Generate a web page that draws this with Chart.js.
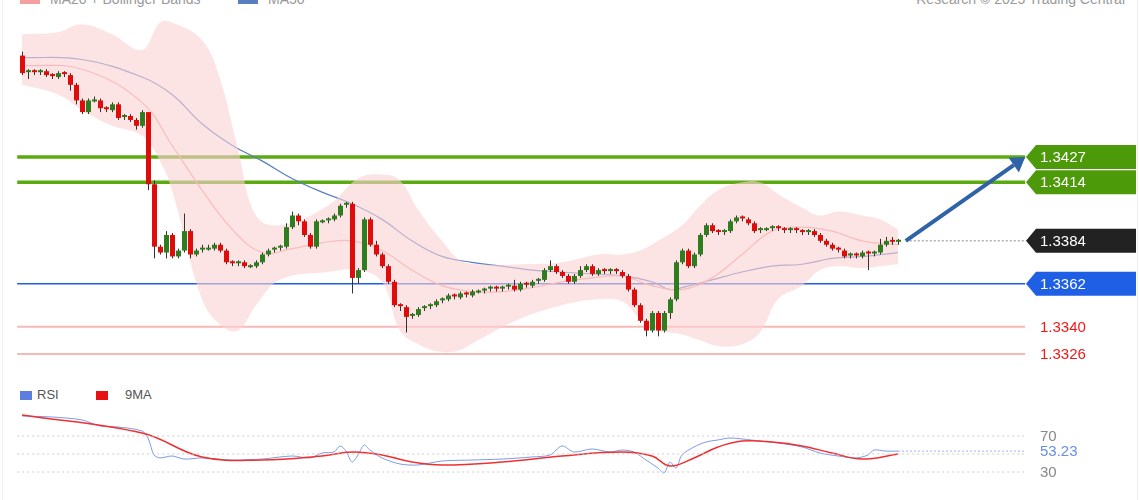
<!DOCTYPE html>
<html><head><meta charset="utf-8">
<script src="https://cdn.jsdelivr.net/npm/chart.js@4.4.1/dist/chart.umd.min.js"></script>
<style>
html,body{margin:0;padding:0;background:#fff;width:1140px;height:500px;overflow:hidden;font-family:"Liberation Sans",Arial,sans-serif}
#main{position:absolute;left:0;top:0;width:1140px;height:375px}
#rsi{position:absolute;left:0;top:380px;width:1140px;height:120px}
.t{position:absolute;font-size:14px;color:#999;white-space:nowrap}
.sw{position:absolute;width:20px;height:3px}
.lg{position:absolute;font-size:13px;color:#555}
.sq{position:absolute;width:12px;height:9px}
</style></head><body>
<div class="sw" style="left:20px;top:-2px;background:#f5a0a0;height:6px"></div>
<div class="t" style="left:50px;top:-9px">MA20 + Bollinger Bands</div>
<div class="sw" style="left:238px;top:-2px;background:#5a7ec0;height:6px"></div>
<div class="t" style="left:268px;top:-9px">MA50</div>
<div class="t" style="right:15px;top:-9px">Research © 2025 Trading Central</div>
<div style="position:absolute;right:2px;top:0;width:1px;height:500px;background:#eee"></div>
<div style="position:absolute;left:2px;top:0;width:1px;height:500px;background:#f2f2f2"></div>
<div class="sq" style="left:20px;top:391px;background:#5b7fe0"></div>
<div class="lg" style="left:37px;top:387px">RSI</div>
<div class="sq" style="left:96px;top:391px;background:#e81010"></div>
<div class="lg" style="left:125px;top:387px">9MA</div>
<canvas id="main" width="1140" height="375"></canvas>
<canvas id="rsi" width="1140" height="120"></canvas>
<script>
const firstOpen = 1.3479;
const closes = [1.3470,1.3471,1.3470,1.3471,1.3469,1.3468,1.3470,1.3469,1.3464,1.3456,
1.3450,1.3456,1.3456,1.3452,1.3451,1.3454,1.3447,1.3448,1.3446,1.3443,
1.3450,1.3413,1.3381,1.3378,1.3387,1.3376,1.3379,1.3389,1.3377,1.3379,
1.3380,1.3380,1.3382,1.3379,1.3373,1.3372,1.3373,1.3371,1.3371,1.3373,
1.3377,1.3379,1.3380,1.3381,1.3391,1.3397,1.3394,1.3387,1.3381,1.3394,
1.3394,1.3395,1.3397,1.3402,1.3403,1.3365,1.3369,1.3395,1.3382,1.3377,
1.3371,1.3363,1.3351,1.3350,1.3345,1.3346,1.3349,1.3350,1.3351,1.3353,
1.3354,1.3356,1.3355,1.3357,1.3356,1.3358,1.3358,1.3359,
1.3360,1.3359,1.3360,1.3361,1.3359,1.3362,1.3361,1.3363,1.3364,
1.3369,1.3371,1.3368,1.3366,1.3363,1.3366,1.3369,1.3371,1.3367,1.3369,
1.3368,1.3369,1.3368,1.3366,1.3359,1.3351,1.3343,1.3338,1.3347,1.3338,
1.3347,1.3354,1.3373,1.3379,1.3371,1.3377,1.3387,1.3392,1.3389,1.3388,
1.3389,1.3394,1.3396,1.3395,1.3393,1.3389,1.3390,1.3390,1.3391,1.3390,1.3389,1.3390,1.3389,
1.3388,1.3389,1.3387,1.3384,1.3382,1.3380,1.3379,1.3376,1.3377,1.3376,
1.3378,1.3377,1.3378,1.3382,1.3384,1.3383,1.3384];
// wick extensions in pips beyond the body
const hiExt = [2,1,1,1,1,1,1,1,1,1, 1,1,2,1,1,1,1,1,1,1, 1,0,2,1,2,1,1,9,1,1, 2,2,1,1,1,1,1,1,1,1, 1,1,1,1,2,2,1,1,1,1, 1,1,1,1,1,1,1,1,1,2, 1,1,1,1,1,1,1,1,1,1, 1,1,1,1,1,1,1,1, 1,1,1,1,3,1,1,1,1, 1,3,1,1,1,1,2,1,1,1, 1,1,1,1,1,1,1,1,1,1, 1,1,1,1,1,1,1,1,1,1, 1,1,1,1,1,1,1,1,1,1,1,1,1, 1,1,1,1,1,1,1,1,1,1, 1,1,1,3,2,2,1];
const loExt = [1,3,1,1,1,1,1,1,3,2, 1,1,1,2,1,1,1,1,1,2, 1,3,6,1,3,1,1,1,2,1, 1,1,1,1,1,1,1,1,1,1, 1,1,1,1,1,1,2,1,1,1, 1,1,1,1,1,8,3,1,1,1, 1,1,1,2,8,1,1,1,1,1, 1,1,1,1,1,1,1,1, 1,1,1,1,1,1,1,1,1, 1,1,1,1,1,1,1,1,1,1, 1,1,1,1,1,1,1,3,1,3, 1,3,1,1,1,1,1,1,1,1, 1,1,1,1,1,1,1,1,1,1,1,1,1, 1,1,1,1,1,1,1,1,1,1, 1,8,1,1,1,1,1];

const bandIdx = [0,6,10,15,20,23,25,30,33,36,39,43,51,56,60,63,66,70,73,76,83,90,96,100,103,106,110,113,116,120,123,126,130,133,136,140,143,146];
const bandUpper = [1.3490,1.3491,1.3495,1.3490,1.3482,1.3496,1.3496,1.3487,1.3467,1.3431,1.3397,1.3392,1.3402,1.3416,1.3418,1.3415,1.3400,1.3384,1.3374,1.3372,1.3372,1.3373,1.3377,1.3377,1.3379,1.3384,1.3392,1.3402,1.3410,1.3414,1.3414,1.3408,1.3401,1.3397,1.3399,1.3397,1.3395,1.3390];
const bandLower = [1.3464,1.3459,1.3451,1.3443,1.3438,1.3425,1.3410,1.3354,1.3341,1.3338,1.3351,1.3364,1.3368,1.3369,1.3363,1.3338,1.3331,1.3327,1.3328,1.3333,1.3344,1.3351,1.3354,1.3353,1.3344,1.3338,1.3336,1.3333,1.3330,1.3331,1.3337,1.3354,1.3361,1.3369,1.3371,1.3370,1.3371,1.3372];
const ma20Idx = [0,10,20,25,30,35,40,45,50,55,60,65,70,75,80,85,90,95,100,105,110,115,120,125,130,135,140,146];
const ma20 = [1.3474,1.3472,1.3455,1.3433,1.3410,1.3390,1.3378,1.3380,1.3383,1.3384,1.3379,1.3369,1.3361,1.3358,1.3358,1.3360,1.3363,1.3365,1.3366,1.3361,1.3359,1.3365,1.3377,1.3389,1.3391,1.3389,1.3384,1.3382];
const ma50Idx = [0,10,20,25,30,35,40,45,50,55,60,65,70,75,80,85,90,95,100,105,108,110,115,120,125,130,135,140,146];
const ma50 = [1.3478,1.3477,1.3468,1.3459,1.3444,1.3433,1.3425,1.3416,1.3409,1.3403,1.3395,1.3384,1.3376,1.3373,1.3371,1.3369,1.3368,1.3367,1.3366,1.3363,1.3359,1.3360,1.3364,1.3368,1.3371,1.3372,1.3375,1.3376,1.3378];

const resistances = [1.3427, 1.3414];
const currentPrice = 1.3384;
const pivot = 1.3362;
const supports = [1.3340, 1.3326];

const rsiIdx = [0,5,10,13,16,20,21,22,23,25,27,30,35,40,45,48,50,52,53,54,55,56,57,58,60,63,66,70,75,80,85,88,90,92,95,98,100,102,104,106,107,108,109,110,112,114,116,118,120,123,126,130,133,136,139,141,142,144,146];
const rsiVals = [92.2,91.1,87.8,81.1,80.0,75.6,67.8,48.9,45.6,47.8,44.4,45.6,43.3,44.4,47.8,45.6,51.1,52.2,58.9,53.3,41.1,48.9,60.0,54.4,45.6,38.9,37.8,42.2,43.3,44.4,46.7,48.9,58.9,52.2,55.6,52.2,54.4,52.2,43.3,34.4,28.9,41.1,34.4,48.9,57.8,63.3,65.6,67.8,66.7,64.4,62.2,57.8,51.1,47.8,45.6,48.9,54.4,53.2,53.23];
const ma9Idx = [0,20,30,40,50,55,60,65,70,80,90,100,105,108,112,116,120,125,130,135,140,146];
const ma9Vals = [93.3,73.3,46.7,43.3,47.8,52.2,48.9,41.1,37.8,41.1,47.8,52.2,47.8,36.7,45.6,57.8,64.4,63.3,58.9,51.1,44.4,50.0];
const rsiLevels = [70, 30];

const X_MIN = -22/6, X_MAX = -22/6 + 1140/6;
const LINE_END = 167.2, LINE_START = -0.8;
const pts = (xs, ys) => xs.map((x,i)=>({x, y: ys[i]}));
const hline = (v, color, w, dash) => ({data:[{x:LINE_START,y:v},{x:LINE_END,y:v}], borderColor:color, borderWidth:w, pointRadius:0, borderDash:dash||[], fill:false});

const candlePlugin = {
  id:'candles',
  afterDatasetsDraw(chart){
    const {ctx, scales:{x, y}} = chart;
    ctx.save();
    let prev = firstOpen;
    closes.forEach((c,i)=>{
      const o = prev; prev = c;
      const hi = Math.max(o,c) + hiExt[i]*0.0001, lo = Math.min(o,c) - loExt[i]*0.0001;
      const px = Math.round(x.getPixelForValue(i))+0.5;
      const up = c >= o;
      ctx.strokeStyle = '#333'; ctx.lineWidth = 1;
      ctx.beginPath(); ctx.moveTo(px, y.getPixelForValue(hi)); ctx.lineTo(px, y.getPixelForValue(lo)); ctx.stroke();
      let yt = y.getPixelForValue(Math.max(o,c)), yb = y.getPixelForValue(Math.min(o,c));
      if (yb - yt < 2) { yt -= 1; yb = yt + 2; }
      ctx.fillStyle = up ? '#2e7d1f' : '#e00b0b';
      ctx.fillRect(px-2.5, yt, 5, yb-yt);
    });
    const tag = (v, bg, fg) => {
      const yy = y.getPixelForValue(v), xl = 1026;
      ctx.fillStyle = bg; ctx.beginPath();
      ctx.moveTo(xl, yy); ctx.lineTo(xl+10, yy-12); ctx.lineTo(1136, yy-12); ctx.lineTo(1136, yy+12); ctx.lineTo(xl+10, yy+12); ctx.closePath(); ctx.fill();
      ctx.fillStyle = fg; ctx.font = '15px "Liberation Sans", Arial'; ctx.textBaseline='middle';
      ctx.fillText(v.toFixed(4), 1040, yy+1);
    };
    tag(resistances[0], '#4c9a0a', '#fff');
    tag(resistances[1], '#4c9a0a', '#fff');
    tag(currentPrice, '#222', '#fff');
    tag(pivot, '#1f5fe6', '#fff');
    supports.forEach(v=>{
      ctx.fillStyle = '#f01818'; ctx.font = '15px "Liberation Sans", Arial'; ctx.textBaseline='middle';
      ctx.fillText(v.toFixed(4), 1040, y.getPixelForValue(v)+1);
    });
    const x1 = x.getPixelForValue(147.3), y1 = y.getPixelForValue(currentPrice);
    const x2 = x.getPixelForValue(167.2), y2 = y.getPixelForValue(resistances[0]);
    const ang = Math.atan2(y2-y1, x2-x1);
    ctx.strokeStyle = '#2f63a8'; ctx.fillStyle = '#2f63a8'; ctx.lineWidth = 4;
    const xe = x2 - 14*Math.cos(ang), ye = y2 - 14*Math.sin(ang);
    ctx.beginPath(); ctx.moveTo(x1,y1); ctx.lineTo(xe,ye); ctx.stroke();
    ctx.beginPath(); ctx.moveTo(x2,y2);
    ctx.lineTo(xe + 9*Math.cos(ang+Math.PI/2), ye + 9*Math.sin(ang+Math.PI/2));
    ctx.lineTo(xe - 9*Math.cos(ang+Math.PI/2), ye - 9*Math.sin(ang+Math.PI/2));
    ctx.closePath(); ctx.fill();
    ctx.restore();
  }
};

new Chart(document.getElementById('main'), {
  type:'line',
  data:{datasets:[
    {data:pts(bandIdx,bandUpper), borderWidth:0, pointRadius:0, tension:0.4, fill:'+1', backgroundColor:'rgba(252,210,210,0.6)'},
    {data:pts(bandIdx,bandLower), borderWidth:0, pointRadius:0, tension:0.4, fill:false},
    {data:pts(ma20Idx,ma20), borderColor:'#f49a9a', borderWidth:1.2, pointRadius:0, tension:0.4, fill:false},
    {data:pts(ma50Idx,ma50), borderColor:'#5a7ec0', borderWidth:1.2, pointRadius:0, tension:0.4, fill:false},
    hline(supports[0], '#f7b8b8', 2),
    hline(supports[1], '#f7b8b8', 2),
    hline(pivot, '#1f5fe6', 1.5),
    hline(resistances[0], '#5aaa10', 3.5),
    hline(resistances[1], '#5aaa10', 3.5),
    {data:[{x:147.3,y:currentPrice},{x:LINE_END,y:currentPrice}], borderColor:'#888', borderWidth:1, borderDash:[2,2], pointRadius:0, fill:false}
  ]},
  options:{animation:false, responsive:false, events:[], layout:{padding:0},
    plugins:{legend:{display:false}, tooltip:{enabled:false}},
    scales:{x:{type:'linear', min:X_MIN, max:X_MAX, display:false},
            y:{min:1.33152, max:1.35075, display:false}}},
  plugins:[candlePlugin]
});

const rsiLabels = {
  id:'rsiLabels',
  afterDatasetsDraw(chart){
    const {ctx, scales:{y}} = chart;
    ctx.save(); ctx.font = '15px "Liberation Sans", Arial'; ctx.textBaseline='middle';
    ctx.fillStyle = '#888';
    rsiLevels.forEach(v=>ctx.fillText(String(v), 1040, y.getPixelForValue(v)+1));
    ctx.fillStyle = '#6a8ee6';
    const last = rsiVals[rsiVals.length-1];
    ctx.fillText(last.toFixed(2), 1040, y.getPixelForValue(last)+1);
    ctx.restore();
  }
};
const last = rsiVals[rsiVals.length-1];
new Chart(document.getElementById('rsi'), {
  type:'line',
  data:{datasets:[
    {data:[{x:-0.8,y:rsiLevels[0]},{x:LINE_END,y:rsiLevels[0]}], borderColor:'#ccc', borderWidth:1, borderDash:[2,3], pointRadius:0},
    {data:[{x:-0.8,y:rsiLevels[1]},{x:LINE_END,y:rsiLevels[1]}], borderColor:'#ccc', borderWidth:1, borderDash:[2,3], pointRadius:0},
    {data:[{x:-0.8,y:50},{x:LINE_END,y:50}], borderColor:'#ccc', borderWidth:1, borderDash:[2,3], pointRadius:0},
    {data:[{x:146,y:last},{x:LINE_END,y:last}], borderColor:'#9fb4ee', borderWidth:1, borderDash:[2,2], pointRadius:0},
    {data:pts(ma9Idx,ma9Vals), borderColor:'#f03030', borderWidth:1.5, pointRadius:0, tension:0.4},
    {data:pts(rsiIdx,rsiVals), borderColor:'#7d9be6', borderWidth:1, pointRadius:0, tension:0.3}
  ]},
  options:{animation:false, responsive:false, events:[], layout:{padding:0},
    plugins:{legend:{display:false}, tooltip:{enabled:false}},
    scales:{x:{type:'linear', min:X_MIN, max:X_MAX, display:false},
            y:{min:-1.1, max:132.2, display:false}}},
  plugins:[rsiLabels]
});
</script></body></html>
